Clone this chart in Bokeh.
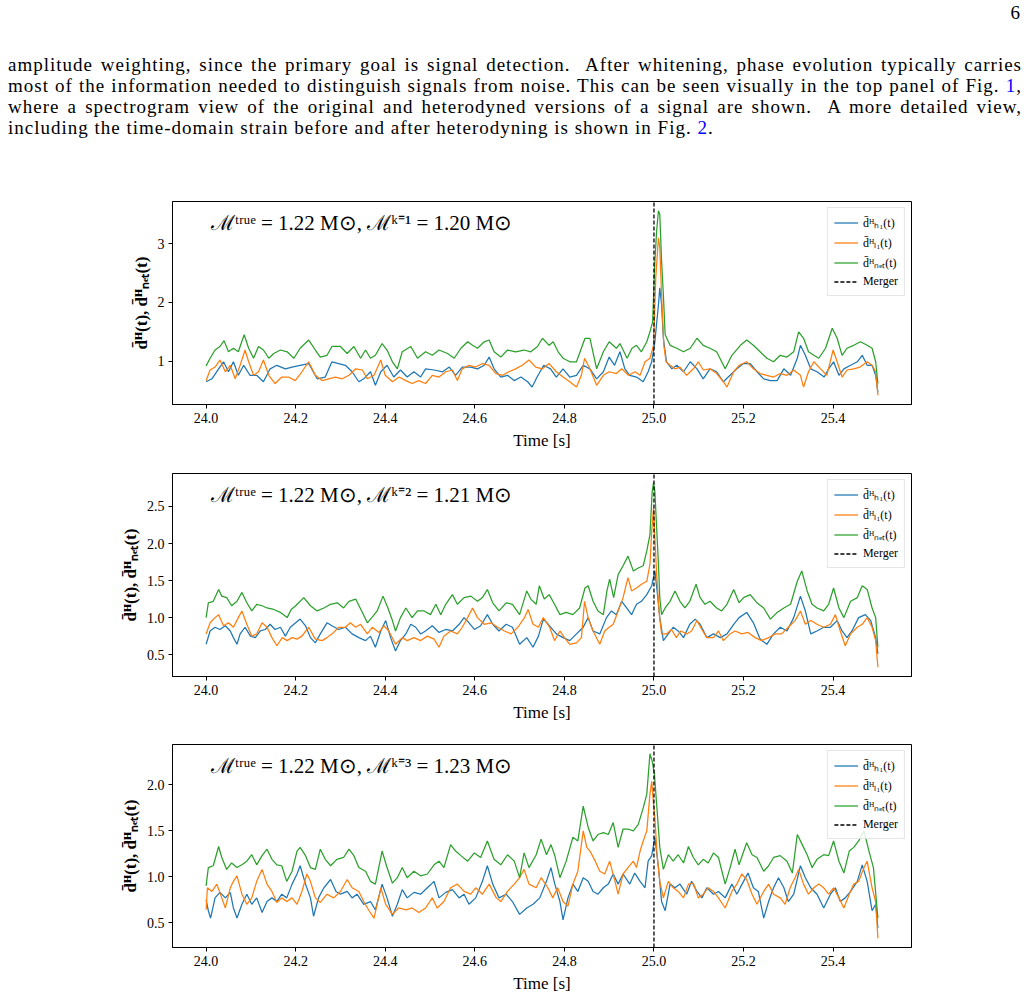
from bokeh.plotting import figure
from bokeh.models import Range1d, FixedTicker, PrintfTickFormatter, Label, Div
from bokeh.layouts import column
from bokeh.embed import file_html
from bokeh.resources import INLINE

# ---------------- data (time [s], value) ----------------
p1_h1 = [(24.000,0.65),(24.013,0.70),(24.028,0.87),(24.039,0.99),(24.050,0.82),(24.061,0.99),(24.072,0.76),(24.084,0.93),(24.098,0.76),(24.113,0.76),(24.128,0.65),(24.143,0.87),(24.158,0.93),(24.177,0.87),(24.192,0.90),(24.210,0.93),(24.229,0.96),(24.248,0.70),(24.266,0.73),(24.281,0.99),(24.296,0.96),(24.311,0.93),(24.326,0.82),(24.341,0.65),(24.352,0.70),(24.367,0.82),(24.378,0.59),(24.390,0.82),(24.404,0.93),(24.419,0.73),(24.434,0.85),(24.449,0.73),(24.464,0.82),(24.479,0.73),(24.490,0.87),(24.509,0.85),(24.528,0.82),(24.543,0.90),(24.557,0.76),(24.572,0.90),(24.591,0.90),(24.606,0.87),(24.621,0.93),(24.632,1.07),(24.643,0.87),(24.658,0.73),(24.673,0.76),(24.688,0.67),(24.703,0.73),(24.718,0.65),(24.728,0.56),(24.739,0.73),(24.754,0.93),(24.769,0.87),(24.782,0.73),(24.797,0.87),(24.812,0.73),(24.827,0.76),(24.842,0.93),(24.857,0.87),(24.872,0.70),(24.887,0.82),(24.900,1.07),(24.912,0.93),(24.924,1.16),(24.935,0.87),(24.946,0.76),(24.961,0.73),(24.976,0.65),(24.987,0.82),(24.995,0.99),(25.002,1.33),(25.010,1.96),(25.013,2.25),(25.017,1.96),(25.021,1.39),(25.028,0.99),(25.040,0.87),(25.051,0.93),(25.066,0.82),(25.081,0.99),(25.096,0.87),(25.110,0.70),(25.125,0.87),(25.140,0.82),(25.155,0.65),(25.170,0.76),(25.185,0.87),(25.200,0.96),(25.215,0.96),(25.230,0.82),(25.245,0.70),(25.260,0.67),(25.275,0.67),(25.290,0.87),(25.305,0.76),(25.320,1.05),(25.327,1.27),(25.338,1.10),(25.350,0.87),(25.364,0.82),(25.380,0.73),(25.390,0.87),(25.401,0.99),(25.413,0.76),(25.424,0.87),(25.439,0.93),(25.454,0.99),(25.465,1.10),(25.476,0.93),(25.487,0.93),(25.495,0.76),(25.500,0.47)]
p1_l1 = [(24.000,0.67),(24.009,0.85),(24.020,0.90),(24.031,1.02),(24.043,0.82),(24.054,0.93),(24.065,0.70),(24.076,0.93),(24.087,1.19),(24.095,0.99),(24.106,0.76),(24.117,0.82),(24.128,1.02),(24.140,0.76),(24.154,0.62),(24.169,0.73),(24.184,0.73),(24.199,0.67),(24.214,0.82),(24.229,0.99),(24.244,0.76),(24.259,0.67),(24.274,0.70),(24.289,0.73),(24.304,0.70),(24.319,0.76),(24.334,0.87),(24.349,0.85),(24.360,0.70),(24.375,0.76),(24.390,1.02),(24.400,0.76),(24.416,0.65),(24.431,0.73),(24.446,0.67),(24.460,0.62),(24.475,0.67),(24.490,0.62),(24.505,0.76),(24.520,0.73),(24.535,0.82),(24.550,0.85),(24.561,0.67),(24.572,0.87),(24.587,0.93),(24.602,0.90),(24.617,0.96),(24.632,0.93),(24.647,0.79),(24.662,0.76),(24.676,0.82),(24.691,0.87),(24.706,0.93),(24.721,1.02),(24.736,0.90),(24.751,0.87),(24.766,0.96),(24.782,0.82),(24.797,0.73),(24.812,0.65),(24.827,0.56),(24.838,0.76),(24.845,1.05),(24.857,0.87),(24.872,0.59),(24.887,0.76),(24.900,0.82),(24.916,0.79),(24.928,0.87),(24.943,0.76),(24.958,0.82),(24.969,0.76),(24.980,0.99),(24.991,1.05),(24.999,1.27),(25.004,2.42),(25.010,3.10),(25.013,2.93),(25.017,2.13),(25.022,1.27),(25.027,0.99),(25.036,0.93),(25.047,0.87),(25.058,0.90),(25.073,0.76),(25.088,0.87),(25.099,0.99),(25.110,0.85),(25.125,0.87),(25.140,0.79),(25.155,0.65),(25.163,0.56),(25.178,0.82),(25.190,0.93),(25.207,0.99),(25.222,0.87),(25.237,0.79),(25.252,0.76),(25.267,0.73),(25.282,0.79),(25.297,0.76),(25.312,0.85),(25.327,0.76),(25.334,0.56),(25.345,0.82),(25.357,0.99),(25.372,0.87),(25.386,0.76),(25.400,1.19),(25.409,0.99),(25.420,0.73),(25.431,0.85),(25.446,0.87),(25.460,0.90),(25.476,0.99),(25.487,0.93),(25.495,0.82),(25.500,0.42)]
p1_net = [(24.000,0.92),(24.009,1.05),(24.020,1.19),(24.031,1.25),(24.040,1.35),(24.050,1.16),(24.061,1.22),(24.072,1.16),(24.085,1.45),(24.095,1.22),(24.106,1.05),(24.117,1.25),(24.128,1.19),(24.140,1.05),(24.151,1.13),(24.166,1.19),(24.181,1.16),(24.196,1.05),(24.210,1.22),(24.229,1.36),(24.244,1.19),(24.255,1.07),(24.270,1.10),(24.281,1.25),(24.300,1.25),(24.315,1.13),(24.330,1.25),(24.345,1.05),(24.356,1.19),(24.367,1.05),(24.378,1.10),(24.393,1.30),(24.404,1.19),(24.416,0.99),(24.427,0.87),(24.438,1.16),(24.457,1.25),(24.472,1.05),(24.490,1.16),(24.505,1.10),(24.520,1.19),(24.539,1.13),(24.554,1.05),(24.569,1.22),(24.584,1.33),(24.595,1.27),(24.606,1.22),(24.621,1.33),(24.632,1.36),(24.643,1.16),(24.658,1.07),(24.673,1.19),(24.691,1.16),(24.710,1.19),(24.725,1.16),(24.740,1.25),(24.751,1.39),(24.766,1.27),(24.775,1.33),(24.786,1.16),(24.797,1.05),(24.812,0.99),(24.827,0.99),(24.846,1.39),(24.857,1.39),(24.872,0.87),(24.887,1.16),(24.900,1.33),(24.916,1.22),(24.924,1.30),(24.940,1.05),(24.951,1.22),(24.961,1.27),(24.972,1.16),(24.984,1.33),(24.991,1.50),(24.997,1.67),(25.002,2.70),(25.006,3.22),(25.010,3.56),(25.013,3.50),(25.017,2.70),(25.021,2.13),(25.025,1.45),(25.036,1.27),(25.051,1.22),(25.066,1.16),(25.081,1.22),(25.096,1.39),(25.110,1.27),(25.125,1.22),(25.140,1.16),(25.159,0.87),(25.174,1.10),(25.193,1.27),(25.207,1.36),(25.222,1.27),(25.237,1.16),(25.252,1.05),(25.267,0.99),(25.282,1.10),(25.297,1.07),(25.312,1.16),(25.323,1.50),(25.334,1.39),(25.345,1.16),(25.357,1.10),(25.368,1.05),(25.383,1.22),(25.398,1.56),(25.409,1.39),(25.420,1.10),(25.431,1.22),(25.446,1.27),(25.461,1.33),(25.476,1.27),(25.487,1.22),(25.495,0.99),(25.500,0.62)]

p2_h1 = [(24.000,0.64),(24.009,0.82),(24.020,0.87),(24.031,0.84),(24.043,0.89),(24.054,0.82),(24.061,0.73),(24.069,0.64),(24.076,0.78),(24.087,0.87),(24.099,0.75),(24.110,0.73),(24.121,0.82),(24.132,0.84),(24.143,0.91),(24.154,0.84),(24.166,0.87),(24.177,0.75),(24.188,0.87),(24.200,0.93),(24.210,0.98),(24.222,0.89),(24.233,0.73),(24.244,0.66),(24.255,0.78),(24.270,0.93),(24.281,0.89),(24.296,0.84),(24.311,0.87),(24.326,0.78),(24.341,0.73),(24.356,0.69),(24.367,0.75),(24.378,0.60),(24.390,0.82),(24.401,0.96),(24.412,0.73),(24.423,0.55),(24.434,0.69),(24.446,0.78),(24.457,0.91),(24.468,0.87),(24.479,0.78),(24.490,0.82),(24.505,0.89),(24.520,0.80),(24.535,0.84),(24.550,0.82),(24.565,0.91),(24.576,1.00),(24.587,0.93),(24.599,0.84),(24.613,0.89),(24.628,1.04),(24.640,0.91),(24.654,0.82),(24.670,0.91),(24.684,0.87),(24.700,0.64),(24.716,0.73),(24.730,0.60),(24.742,0.75),(24.753,0.98),(24.764,0.91),(24.782,0.78),(24.797,0.73),(24.812,0.69),(24.827,0.78),(24.842,0.87),(24.853,1.00),(24.864,0.82),(24.879,0.78),(24.894,1.00),(24.905,1.09),(24.916,1.04),(24.928,1.22),(24.939,1.13),(24.950,1.04),(24.961,1.18),(24.972,1.22),(24.984,1.31),(24.995,1.43),(25.002,1.63),(25.007,1.36),(25.013,1.00),(25.021,0.69),(25.032,0.78),(25.043,0.87),(25.054,0.82),(25.066,0.73),(25.080,0.91),(25.092,0.98),(25.103,0.91),(25.118,0.73),(25.133,0.78),(25.148,0.73),(25.163,0.78),(25.178,0.91),(25.190,1.00),(25.207,1.07),(25.222,0.93),(25.237,0.71),(25.252,0.64),(25.267,0.78),(25.282,0.87),(25.297,0.82),(25.312,1.00),(25.327,1.29),(25.338,1.09),(25.350,0.78),(25.364,0.82),(25.379,0.87),(25.394,0.87),(25.409,0.96),(25.420,0.82),(25.431,0.73),(25.442,0.82),(25.457,1.00),(25.472,1.04),(25.484,0.96),(25.495,0.73),(25.500,0.51)]
p2_l1 = [(24.000,0.78),(24.009,0.93),(24.020,1.00),(24.028,1.04),(24.039,0.89),(24.050,0.93),(24.061,0.87),(24.072,1.00),(24.080,1.09),(24.091,0.91),(24.102,0.75),(24.113,0.78),(24.125,0.93),(24.136,0.87),(24.147,0.73),(24.158,0.62),(24.170,0.73),(24.181,0.69),(24.192,0.73),(24.203,0.71),(24.214,0.75),(24.229,0.87),(24.244,0.71),(24.259,0.69),(24.270,0.73),(24.285,0.80),(24.296,0.87),(24.311,0.87),(24.322,0.93),(24.334,0.87),(24.345,0.91),(24.360,0.78),(24.371,0.87),(24.386,0.80),(24.397,0.89),(24.408,0.82),(24.423,0.64),(24.438,0.73),(24.449,0.69),(24.464,0.73),(24.479,0.69),(24.494,0.75),(24.509,0.71),(24.520,0.60),(24.531,0.75),(24.546,0.82),(24.561,0.78),(24.572,0.87),(24.584,1.00),(24.595,1.13),(24.606,1.00),(24.621,0.91),(24.636,0.93),(24.651,0.87),(24.666,0.82),(24.681,0.78),(24.696,0.87),(24.711,1.00),(24.719,1.11),(24.730,0.91),(24.742,0.87),(24.753,1.00),(24.767,0.87),(24.778,0.69),(24.790,0.82),(24.800,0.73),(24.812,0.64),(24.827,0.66),(24.838,0.73),(24.845,1.22),(24.853,1.00),(24.864,0.82),(24.879,0.64),(24.890,0.82),(24.900,0.87),(24.909,0.91),(24.920,1.09),(24.931,1.27),(24.942,1.54),(24.950,1.36),(24.961,1.40),(24.972,1.45),(24.984,1.49),(24.991,1.72),(24.995,2.17),(24.999,2.48),(25.002,2.08),(25.006,1.58),(25.012,1.04),(25.017,0.78),(25.028,0.78),(25.039,0.84),(25.050,0.73),(25.060,0.82),(25.073,0.78),(25.084,0.82),(25.096,0.96),(25.107,0.84),(25.118,0.73),(25.133,0.73),(25.144,0.82),(25.155,0.69),(25.170,0.78),(25.181,0.82),(25.196,0.78),(25.210,0.80),(25.226,0.73),(25.240,0.69),(25.256,0.73),(25.270,0.78),(25.285,0.78),(25.300,0.87),(25.315,0.96),(25.327,1.09),(25.338,0.91),(25.350,0.96),(25.364,0.91),(25.379,0.87),(25.394,0.91),(25.405,1.04),(25.416,0.82),(25.427,0.62),(25.439,0.78),(25.454,0.87),(25.465,0.91),(25.476,1.00),(25.487,0.87),(25.495,0.69),(25.500,0.33)]
p2_net = [(24.000,1.00),(24.005,1.20),(24.016,1.22),(24.028,1.38),(24.035,1.29),(24.046,1.27),(24.057,1.16),(24.069,1.22),(24.080,1.34),(24.091,1.20),(24.102,1.09),(24.113,1.18),(24.125,1.16),(24.136,1.13),(24.151,1.11),(24.166,1.07),(24.181,1.00),(24.190,1.11),(24.200,1.16),(24.218,1.27),(24.233,1.16),(24.248,1.09),(24.263,1.13),(24.278,1.18),(24.293,1.20),(24.307,1.13),(24.319,1.22),(24.334,1.25),(24.349,1.07),(24.360,0.93),(24.370,1.00),(24.382,1.09),(24.395,1.29),(24.406,1.13),(24.416,0.96),(24.423,0.82),(24.434,1.00),(24.446,1.13),(24.460,1.00),(24.472,1.09),(24.487,1.09),(24.501,1.04),(24.513,1.18),(24.524,1.04),(24.535,1.18),(24.550,1.31),(24.561,1.18),(24.576,1.27),(24.591,1.29),(24.606,1.22),(24.617,1.27),(24.628,1.38),(24.640,1.20),(24.654,1.09),(24.670,1.20),(24.684,1.18),(24.700,1.04),(24.716,1.36),(24.725,1.25),(24.737,1.18),(24.744,1.43),(24.755,1.25),(24.766,1.31),(24.778,1.18),(24.790,1.04),(24.804,1.07),(24.819,1.04),(24.834,1.13),(24.846,1.40),(24.853,1.43),(24.864,1.22),(24.875,1.09),(24.887,1.04),(24.895,1.36),(24.901,1.52),(24.910,1.27),(24.920,1.58),(24.931,1.70),(24.942,1.83),(24.954,1.63),(24.965,1.67),(24.976,1.70),(24.984,1.90),(24.991,2.12),(24.996,2.70),(24.999,2.82),(25.002,2.70),(25.006,2.21),(25.010,1.72),(25.013,1.27),(25.017,1.04),(25.025,1.13),(25.036,1.22),(25.047,1.36),(25.058,1.22),(25.069,1.13),(25.080,1.22),(25.094,1.45),(25.103,1.27),(25.114,1.18),(25.125,1.22),(25.140,1.13),(25.151,1.09),(25.163,1.18),(25.178,1.38),(25.190,1.20),(25.200,1.27),(25.215,1.31),(25.230,1.20),(25.245,1.13),(25.260,0.98),(25.275,1.07),(25.290,1.13),(25.305,1.18),(25.320,1.49),(25.330,1.63),(25.342,1.36),(25.353,1.18),(25.364,1.13),(25.379,1.09),(25.390,1.18),(25.401,1.40),(25.413,1.13),(25.424,1.00),(25.439,1.22),(25.454,1.27),(25.465,1.43),(25.476,1.38),(25.487,1.13),(25.495,1.00),(25.500,0.60)]

p3_h1 = [(24.000,0.75),(24.005,0.63),(24.010,0.55),(24.020,0.77),(24.031,0.83),(24.043,0.77),(24.054,0.83),(24.061,0.66),(24.069,0.55),(24.080,0.70),(24.091,0.81),(24.102,0.70),(24.113,0.77),(24.125,0.61),(24.136,0.73),(24.147,0.77),(24.158,0.73),(24.169,0.81),(24.180,0.77),(24.192,0.92),(24.203,1.03),(24.210,1.12),(24.222,0.92),(24.233,0.77),(24.240,0.57),(24.251,0.77),(24.263,0.88),(24.278,0.97),(24.290,0.84),(24.300,0.81),(24.315,0.84),(24.326,0.77),(24.337,0.81),(24.352,0.70),(24.367,0.73),(24.378,0.64),(24.393,0.92),(24.404,0.77),(24.416,0.57),(24.427,0.70),(24.438,0.86),(24.449,0.77),(24.464,0.83),(24.479,0.81),(24.494,0.88),(24.509,0.95),(24.520,0.77),(24.535,0.83),(24.550,0.86),(24.565,0.77),(24.576,0.81),(24.587,0.70),(24.602,0.77),(24.617,0.95),(24.628,1.12),(24.640,0.92),(24.654,0.77),(24.670,0.81),(24.684,0.73),(24.700,0.59),(24.716,0.66),(24.730,0.70),(24.745,0.77),(24.760,0.95),(24.770,1.10),(24.778,0.93),(24.790,0.73),(24.797,0.53),(24.808,0.77),(24.819,0.92),(24.830,0.84),(24.842,0.99),(24.853,0.95),(24.864,0.84),(24.875,0.81),(24.887,0.88),(24.898,0.92),(24.909,1.03),(24.920,0.92),(24.931,1.03),(24.946,0.92),(24.957,1.04),(24.969,0.95),(24.980,0.88),(24.987,1.17),(24.995,1.23),(25.002,1.43),(25.010,1.10),(25.017,0.73),(25.025,0.63),(25.036,0.92),(25.047,0.88),(25.058,0.92),(25.073,0.81),(25.084,0.95),(25.096,0.84),(25.107,0.77),(25.118,0.88),(25.133,0.81),(25.144,0.84),(25.159,0.77),(25.174,0.92),(25.185,0.81),(25.200,0.95),(25.210,1.04),(25.222,0.88),(25.233,0.84),(25.245,0.55),(25.256,0.73),(25.267,0.88),(25.278,0.99),(25.290,0.88),(25.300,0.73),(25.312,0.81),(25.327,1.12),(25.338,0.99),(25.350,0.88),(25.364,0.81),(25.379,0.66),(25.394,0.81),(25.405,0.88),(25.416,0.73),(25.427,0.77),(25.439,0.84),(25.454,0.95),(25.465,1.13),(25.476,0.95),(25.487,0.63),(25.495,0.70),(25.500,0.44)]
p3_l1 = [(24.000,0.64),(24.003,0.88),(24.013,0.84),(24.024,0.92),(24.035,0.77),(24.043,0.66),(24.054,0.88),(24.061,0.95),(24.069,1.01),(24.080,0.81),(24.091,0.70),(24.102,0.77),(24.113,0.95),(24.125,1.08),(24.136,0.92),(24.147,0.84),(24.158,0.72),(24.169,0.77),(24.180,0.73),(24.192,0.77),(24.203,0.70),(24.214,0.84),(24.225,1.03),(24.233,0.95),(24.244,0.77),(24.255,0.72),(24.270,0.81),(24.285,0.77),(24.300,0.84),(24.315,0.97),(24.326,0.88),(24.341,0.84),(24.352,0.73),(24.364,0.63),(24.375,0.55),(24.390,0.88),(24.401,0.70),(24.416,0.59),(24.430,0.66),(24.446,0.64),(24.460,0.66),(24.475,0.61),(24.490,0.66),(24.505,0.77),(24.516,0.66),(24.531,0.73),(24.546,0.88),(24.561,0.92),(24.576,0.84),(24.591,0.81),(24.602,0.88),(24.617,0.81),(24.632,0.92),(24.648,0.77),(24.658,0.73),(24.673,0.84),(24.688,0.92),(24.700,0.99),(24.710,1.08),(24.721,0.92),(24.737,0.88),(24.748,0.99),(24.763,0.88),(24.774,0.77),(24.785,0.88),(24.797,0.73),(24.808,0.68),(24.819,0.92),(24.830,1.06),(24.842,1.50),(24.850,1.32),(24.857,1.28),(24.869,1.17),(24.879,1.06),(24.890,1.03),(24.901,1.17),(24.913,0.95),(24.920,0.81),(24.931,1.03),(24.942,1.10),(24.954,1.17),(24.961,1.10),(24.969,1.28),(24.976,1.39),(24.984,1.50),(24.991,1.90),(24.995,2.04),(24.999,1.79),(25.002,1.64),(25.007,1.24),(25.013,0.95),(25.021,0.77),(25.032,0.95),(25.043,0.88),(25.054,0.84),(25.066,0.77),(25.077,0.92),(25.088,0.93),(25.099,0.77),(25.110,0.81),(25.121,0.88),(25.133,0.84),(25.144,0.77),(25.159,0.66),(25.174,0.84),(25.185,0.92),(25.196,1.03),(25.207,0.97),(25.219,0.81),(25.230,0.70),(25.245,0.84),(25.256,0.92),(25.267,0.81),(25.282,0.77),(25.293,0.70),(25.304,0.88),(25.315,0.99),(25.323,1.08),(25.334,0.92),(25.345,0.81),(25.357,0.88),(25.368,0.92),(25.379,0.88),(25.390,0.81),(25.401,0.88),(25.413,0.77),(25.424,0.66),(25.436,0.81),(25.446,0.92),(25.457,0.95),(25.469,1.10),(25.476,1.17),(25.487,0.88),(25.495,0.73),(25.500,0.33)]
p3_net = [(24.000,0.90),(24.005,1.10),(24.016,1.12),(24.028,1.33),(24.035,1.21),(24.046,1.08),(24.057,1.15),(24.069,1.10),(24.080,1.13),(24.091,1.17),(24.102,1.24),(24.113,1.13),(24.125,1.23),(24.136,1.30),(24.147,1.19),(24.158,1.13),(24.169,1.12),(24.180,0.95),(24.192,1.06),(24.203,1.28),(24.210,1.32),(24.222,1.23),(24.233,1.10),(24.244,1.08),(24.255,1.30),(24.266,1.19),(24.278,1.12),(24.292,1.19),(24.307,1.21),(24.319,1.30),(24.330,1.23),(24.341,1.10),(24.356,1.06),(24.367,0.95),(24.378,0.92),(24.393,1.28),(24.404,1.10),(24.416,0.93),(24.427,0.99),(24.438,1.10),(24.449,0.99),(24.464,1.06),(24.479,1.01),(24.494,1.03),(24.509,1.13),(24.520,1.17),(24.531,1.10),(24.546,1.35),(24.557,1.28),(24.569,1.23),(24.584,1.17),(24.599,1.26),(24.613,1.21),(24.628,1.39),(24.643,1.19),(24.658,1.13),(24.673,1.24),(24.688,1.17),(24.700,0.99),(24.710,1.26),(24.721,1.10),(24.737,1.24),(24.748,1.41),(24.760,1.24),(24.770,1.35),(24.778,1.24),(24.790,0.99),(24.804,1.17),(24.819,1.43),(24.830,1.39),(24.842,1.77),(24.853,1.54),(24.864,1.39),(24.875,1.46),(24.887,1.48),(24.898,1.46),(24.909,1.59),(24.920,1.32),(24.931,1.52),(24.942,1.52),(24.954,1.50),(24.965,1.57),(24.976,1.75),(24.984,1.90),(24.991,2.34),(24.996,2.26),(25.001,2.12),(25.006,1.79),(25.013,1.32),(25.021,1.08),(25.032,1.24),(25.043,1.17),(25.054,1.24),(25.066,1.15),(25.077,1.33),(25.088,1.21),(25.099,1.13),(25.110,1.19),(25.121,1.15),(25.133,1.26),(25.144,1.21),(25.159,0.92),(25.170,1.10),(25.181,1.30),(25.190,1.13),(25.207,1.37),(25.219,1.24),(25.230,1.21),(25.245,1.06),(25.256,1.12),(25.267,1.21),(25.282,1.23),(25.297,1.17),(25.309,1.04),(25.320,1.46),(25.331,1.35),(25.342,1.24),(25.353,1.10),(25.364,1.19),(25.379,1.24),(25.390,1.23),(25.401,1.39),(25.413,1.17),(25.424,1.04),(25.436,1.28),(25.446,1.32),(25.457,1.39),(25.469,1.50),(25.480,1.28),(25.490,1.10),(25.500,0.55)]

merger_time = 25.0
x_ticks = [24.0, 24.2, 24.4, 24.6, 24.8, 25.0, 25.2, 25.4]
p1_yticks = [1, 2, 3]
p2_yticks = [0.5, 1.0, 1.5, 2.0, 2.5]
p3_yticks = [0.5, 1.0, 1.5, 2.0]
chirp_true = "1.22"
chirp_est = ["1.20", "1.21", "1.23"]
k_sup = ["\u00b9", "\u00b2", "\u00b3"]

# ---------------- styling ----------------
C_H1, C_L1, C_NET = "#1f77b4", "#ff7f0e", "#2ca02c"
SERIF = "Liberation Serif"
LBL_H1 = "d\u0304\u1d34\u2095\u2081(t)"
LBL_L1 = "d\u0304\u1d34\u2097\u2081(t)"
LBL_NET = "d\u0304\u1d34\u2099\u2091\u209c(t)"
YLABEL = "d\u0304\u1d34(t), d\u0304\u1d34\u2099\u2091\u209c(t)"


def make_panel(h1, l1, net, yticks, yfmt, idx, b_top, b_bottom):
    allv = [v for s in (h1, l1, net) for _, v in s]
    lo, hi = min(allv), max(allv)
    pad = 0.05 * (hi - lo)
    y0, y1 = lo - pad, hi + pad
    x0, x1 = 24.0 - 0.075, 25.5 + 0.075
    p = figure(frame_width=739, frame_height=203,
               min_border_left=172, min_border_right=118,
               min_border_top=b_top, min_border_bottom=b_bottom,
               x_range=Range1d(x0, x1), y_range=Range1d(y0, y1),
               output_backend="svg", toolbar_location=None,
               background_fill_color="white", border_fill_color="white")
    p.margin = (0, 0, 0, 0)
    p.xgrid.visible = False
    p.ygrid.visible = False
    p.outline_line_color = "black"
    p.outline_line_width = 1
    p.outline_line_alpha = 1

    for s, c, lab in ((h1, C_H1, LBL_H1), (l1, C_L1, LBL_L1), (net, C_NET, LBL_NET)):
        p.line([t for t, _ in s], [v for _, v in s], color=c, line_width=1.25, legend_label=lab)
    p.line([merger_time, merger_time], [y0, y1], color="black", line_width=1.3,
           line_dash="4 2", legend_label="Merger")

    p.xaxis.ticker = FixedTicker(ticks=x_ticks)
    p.xaxis.formatter = PrintfTickFormatter(format="%.1f")
    p.yaxis.ticker = FixedTicker(ticks=yticks)
    p.yaxis.formatter = PrintfTickFormatter(format=yfmt)
    for ax in (p.xaxis, p.yaxis):
        ax.axis_line_color = "black"
        ax.major_tick_line_color = "black"
        ax.major_tick_in = 0
        ax.major_tick_out = 4
        ax.minor_tick_line_color = None
        ax.major_label_text_font = SERIF
        ax.major_label_text_font_size = "14px"
        ax.major_label_text_color = "black"
        ax.major_label_standoff = 4
        ax.axis_label_text_font = SERIF
        ax.axis_label_text_color = "black"
    p.xaxis.axis_label = "Time [s]"
    p.xaxis.axis_label_text_font_size = "17px"
    p.xaxis.axis_label_text_font_style = "normal"
    p.xaxis.axis_label_standoff = 5
    p.yaxis.axis_label = YLABEL
    p.yaxis.axis_label_text_font_size = "17px"
    p.yaxis.axis_label_text_font_style = "bold"
    p.yaxis.axis_label_standoff = 4

    title = ("\u2133\u1d57\u02b3\u1d58\u1d49 = " + chirp_true + " M\u2299, \u2133\u1d4f\u207c"
             + k_sup[idx] + " = " + chirp_est[idx] + " M\u2299")
    p.add_layout(Label(x=x0 + 0.052 * (x1 - x0), y=y0 + 0.895 * (y1 - y0), text=title,
                       text_font=SERIF, text_font_size="21px", text_color="black",
                       text_baseline="alphabetic"))

    lg = p.legend[0]
    lg.location = "top_right"
    lg.margin = 6
    lg.padding = 6
    lg.spacing = 3
    lg.label_height = 15
    lg.glyph_height = 15
    lg.glyph_width = 24
    lg.label_standoff = 5
    lg.label_text_font = SERIF
    lg.label_text_font_size = "12px"
    lg.label_text_color = "black"
    lg.border_line_color = "#cccccc"
    lg.border_line_width = 1
    lg.background_fill_alpha = 0.85
    return p


f1 = make_panel(p1_h1, p1_l1, p1_net, p1_yticks, "%d", 0, 51, 57)
f2 = make_panel(p2_h1, p2_l1, p2_net, p2_yticks, "%.1f", 1, 12, 56)
f3 = make_panel(p3_h1, p3_l1, p3_net, p3_yticks, "%.1f", 2, 12, 53)

line_css = "text-align:justify;text-align-last:justify;height:20.9px;white-space:nowrap;"
html = (
    '<div style="position:relative;width:1029px;height:150px;font-family:\'Liberation Serif\',serif;'
    'font-size:19px;letter-spacing:1px;line-height:20.9px;color:black;">'
    '<div style="position:absolute;right:8px;top:3px;">6</div>'
    '<div style="position:absolute;left:8px;top:55px;width:1014px;">'
    '<div style="' + line_css + '">amplitude weighting, since the primary goal is signal detection.&nbsp; After whitening, phase evolution typically carries</div>'
    '<div style="' + line_css + '">most of the information needed to distinguish signals from noise. This can be seen visually in the top panel of Fig. <span style="color:#0000ff">1</span>,</div>'
    '<div style="' + line_css + '">where a spectrogram view of the original and heterodyned versions of a signal are shown.&nbsp; A more detailed view,</div>'
    '<div style="text-align:left;height:20.9px;white-space:nowrap;">including the time-domain strain before and after heterodyning is shown in Fig. <span style="color:#0000ff">2</span>.</div>'
    '</div></div>'
)
header = Div(text=html, width=1029, height=150, margin=(0, 0, 0, 0))

layout = column(header, f1, f2, f3, spacing=0)
open("out.html", "w").write(file_html(layout, INLINE))
